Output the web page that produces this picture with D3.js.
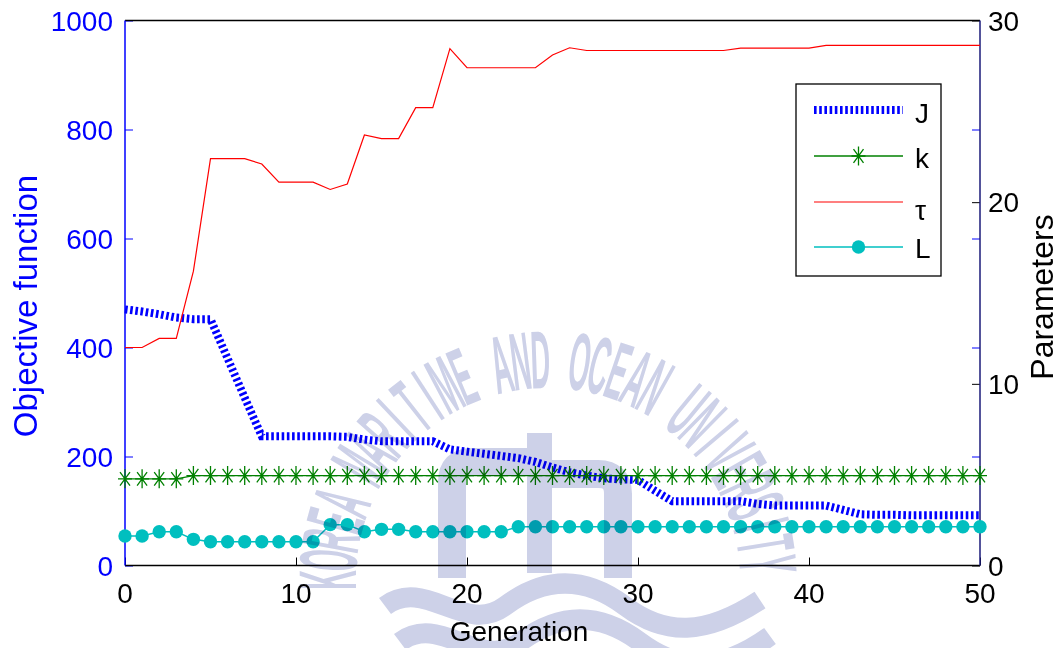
<!DOCTYPE html>
<html>
<head>
<meta charset="utf-8">
<script src="https://cdn.jsdelivr.net/npm/d3@7/dist/d3.min.js"></script>
<style>
  body { margin: 0; background: #fff; }
  text { font-family: "Liberation Sans", Arial, Helvetica, sans-serif; }
</style>
</head>
<body>
<div id="chart"></div>
<script>
// generations on the x axis
var generation = [0,1,2,3,4,5,6,7,8,9,10,11,12,13,14,15,16,17,18,19,20,21,22,23,24,25,
                  26,27,28,29,30,31,32,33,34,35,36,37,38,39,40,41,42,43,44,45,46,47,48,49,50]

// objective function J (left axis)
var J = [470,466,461,455,452,452,380,308,237,237,237,237,237,236,231,228,228,228,228,213,
         209,205,201,197,190,180,171,165,160,158,157,137,118,118,118,118,118,113,110,110,
         110,110,102,94,93,93,92,92,92,92,92]

// parameters (right axis)
var k = [4.77,4.77,4.77,4.77,4.95,4.95,4.95,4.95,4.95,4.95,4.95,4.95,4.95,4.95,4.95,4.95,4.95,
         4.95,4.95,4.95,4.95,4.95,4.95,4.95,4.95,4.95,4.95,4.95,4.95,4.95,4.95,4.95,4.95,4.95,
         4.95,4.95,4.95,4.95,4.95,4.95,4.95,4.95,4.95,4.95,4.95,4.95,4.95,4.95,4.95,4.95,4.95]

var tau = [12.0,12.0,12.5,12.5,16.2,22.4,22.4,22.4,22.1,21.1,21.1,21.1,20.7,21.0,23.7,23.5,23.5,
           25.2,25.2,28.45,27.4,27.4,27.4,27.4,27.4,28.1,28.5,28.35,28.35,28.35,28.35,28.35,28.35,
           28.35,28.35,28.35,28.48,28.48,28.48,28.48,28.48,28.63,28.63,28.63,28.63,28.63,28.63,
           28.63,28.63,28.63,28.63]

var L = [1.62,1.62,1.86,1.86,1.44,1.31,1.31,1.31,1.31,1.31,1.31,1.31,2.25,2.25,1.86,1.99,1.99,
         1.86,1.86,1.86,1.86,1.86,1.86,2.13,2.13,2.13,2.13,2.13,2.13,2.13,2.13,2.13,2.13,2.13,
         2.13,2.13,2.13,2.13,2.13,2.13,2.13,2.13,2.13,2.13,2.13,2.13,2.13,2.13,2.13,2.13,2.13]

var xTicks = [0,10,20,30,40,50]
var leftTicks = [0,200,400,600,800,1000]
var rightTicks = [0,10,20,30]
var legendLabels = ["J","k","\u03c4","L"]
var watermarkText = "KOREA MARITIME AND OCEAN UNIVERSITY"

var width = 1060, height = 648
var margin = {top: 20.5, right: 80, bottom: 82.5, left: 125}
var plotW = width - margin.left - margin.right,
    plotH = height - margin.top - margin.bottom

var svg = d3.select('#chart').append('svg')
    .attr('width', width)
    .attr('height', height)

var x = d3.scaleLinear().domain([0, 50]).range([margin.left, margin.left + plotW]),
    yL = d3.scaleLinear().domain([0, 1000]).range([margin.top + plotH, margin.top]),
    yR = d3.scaleLinear().domain([0, 30]).range([margin.top + plotH, margin.top])

var x0 = x(0), x1 = x(50), yb = yL(0), yt = yL(1000)
var tickLen = 8

// axes (ticks pointing inside, like matlab)
var leftAxis = d3.axisRight(yL).tickValues(leftTicks).tickSize(tickLen).tickFormat('')
svg.append('g').attr('transform', 'translate(' + x0 + ',0)').call(leftAxis)
   .call(function(g){ g.select('.domain').remove(); g.selectAll('line').attr('stroke', '#0000ff') })
var leftMirror = d3.axisLeft(yL).tickValues(leftTicks.slice(1, 5)).tickSize(tickLen).tickFormat('')
svg.append('g').attr('transform', 'translate(' + x1 + ',0)').call(leftMirror)
   .call(function(g){ g.select('.domain').remove(); g.selectAll('line').attr('stroke', '#0000ff') })
var rightAxis = d3.axisLeft(yR).tickValues(rightTicks).tickSize(tickLen).tickFormat('')
svg.append('g').attr('transform', 'translate(' + x1 + ',0)').call(rightAxis)
   .call(function(g){ g.select('.domain').remove(); g.selectAll('line').attr('stroke', '#000') })
var xAxis = d3.axisTop(x).tickValues(xTicks).tickSize(tickLen).tickFormat('')
svg.append('g').attr('transform', 'translate(0,' + yb + ')').call(xAxis)
   .call(function(g){ g.select('.domain').remove(); g.selectAll('line').attr('stroke', '#000') })

// frame
svg.append('line').attr('x1', x0).attr('x2', x1).attr('y1', yt).attr('y2', yt).attr('stroke', '#000').attr('stroke-width', 1.5)
svg.append('line').attr('x1', x0).attr('x2', x1).attr('y1', yb).attr('y2', yb).attr('stroke', '#000').attr('stroke-width', 1.5)
svg.append('line').attr('x1', x1).attr('x2', x1).attr('y1', yt).attr('y2', yb).attr('stroke', '#1a1a7a').attr('stroke-width', 1.5)
svg.append('line').attr('x1', x0).attr('x2', x0).attr('y1', yt).attr('y2', yb).attr('stroke', '#0000ff').attr('stroke-width', 1.5)

// tick labels
svg.append('g').selectAll('text').data(leftTicks).enter().append('text')
    .attr('x', x0 - 12).attr('y', function(d){ return yL(d) + 10 })
    .attr('text-anchor', 'end').attr('font-size', 28).attr('fill', '#0000ff')
    .text(function(d){ return d })
svg.append('g').selectAll('text').data(rightTicks).enter().append('text')
    .attr('x', x1 + 8).attr('y', function(d){ return yR(d) + 10 })
    .attr('font-size', 28).attr('fill', '#000')
    .text(function(d){ return d })
svg.append('g').selectAll('text').data(xTicks).enter().append('text')
    .attr('x', function(d){ return x(d) }).attr('y', yb + 37)
    .attr('text-anchor', 'middle').attr('font-size', 28).attr('fill', '#000')
    .text(function(d){ return d })

// axis titles
svg.append('text').attr('transform', 'translate(37,' + 306 + ') rotate(-90)')
    .attr('text-anchor', 'middle').attr('font-size', 33).attr('fill', '#0000ff')
    .text('Objective function')
svg.append('text').attr('transform', 'translate(1053,' + 297 + ') rotate(-90)')
    .attr('text-anchor', 'middle').attr('font-size', 32).attr('fill', '#000')
    .text('Parameters')
svg.append('text').attr('x', 519).attr('y', 641)
    .attr('text-anchor', 'middle').attr('font-size', 28).attr('fill', '#000')
    .text('Generation')

// series
var lineJ = d3.line().x(function(d, i){ return x(generation[i]) }).y(function(d){ return yL(d) })
var lineR = d3.line().x(function(d, i){ return x(generation[i]) }).y(function(d){ return yR(d) })

svg.append('path').datum(J).attr('d', lineJ)
    .attr('fill', 'none').attr('stroke', '#0000ff').attr('stroke-width', 8)
    .attr('stroke-dasharray', '2.6,2.6')

var starPath = 'M0,-9.5V9.5M-7,0H7M-5,-6.8L5,6.8M-5,6.8L5,-6.8'
var green = '#008000', cyan = '#00bfbf'

svg.append('path').datum(k).attr('d', lineR)
    .attr('fill', 'none').attr('stroke', green).attr('stroke-width', 1.3)
svg.append('g').selectAll('path').data(k).enter().append('path')
    .attr('transform', function(d, i){ return 'translate(' + x(generation[i]) + ',' + yR(d) + ')' })
    .attr('d', starPath).attr('fill', 'none').attr('stroke', green).attr('stroke-width', 1.3)

svg.append('path').datum(tau).attr('d', lineR)
    .attr('fill', 'none').attr('stroke', '#ff0000').attr('stroke-width', 1.2)

svg.append('path').datum(L).attr('d', lineR)
    .attr('fill', 'none').attr('stroke', cyan).attr('stroke-width', 1.5)
svg.append('g').selectAll('circle').data(L).enter().append('circle')
    .attr('cx', function(d, i){ return x(generation[i]) })
    .attr('cy', function(d){ return yR(d) })
    .attr('r', 6.7).attr('fill', cyan)

// legend
var lg = svg.append('g').attr('transform', 'translate(796,84)')
lg.append('rect').attr('width', 145).attr('height', 192).attr('fill', '#fff').attr('stroke', '#000').attr('stroke-width', 1.3)
var rowY = [26, 72, 118, 163]
var lx0 = 18, lx1 = 107, lmid = 62.5
lg.append('line').attr('x1', lx0).attr('x2', lx1).attr('y1', rowY[0]).attr('y2', rowY[0])
    .attr('stroke', '#0000ff').attr('stroke-width', 8).attr('stroke-dasharray', '2.6,2.6')
lg.append('line').attr('x1', lx0).attr('x2', lx1).attr('y1', rowY[1]).attr('y2', rowY[1])
    .attr('stroke', green).attr('stroke-width', 1.3)
lg.append('path').attr('transform', 'translate(' + lmid + ',' + rowY[1] + ')')
    .attr('d', starPath).attr('fill', 'none').attr('stroke', green).attr('stroke-width', 1.3)
lg.append('line').attr('x1', lx0).attr('x2', lx1).attr('y1', rowY[2]).attr('y2', rowY[2])
    .attr('stroke', '#ff0000').attr('stroke-width', 1.2)
lg.append('line').attr('x1', lx0).attr('x2', lx1).attr('y1', rowY[3]).attr('y2', rowY[3])
    .attr('stroke', cyan).attr('stroke-width', 1.5)
lg.append('circle').attr('cx', lmid).attr('cy', rowY[3]).attr('r', 6.7).attr('fill', cyan)
var labelDy = [13, 12, 18, 11]
lg.selectAll('text.lab').data(legendLabels).enter().append('text')
    .attr('class', 'lab')
    .attr('x', 119).attr('y', function(d, i){ return rowY[i] + labelDy[i] })
    .attr('font-size', 28).attr('fill', '#000')
    .text(function(d){ return d })

// faint university watermark over the figure
var wmColor = '#cdd1e8'
var wm = svg.append('g').style('mix-blend-mode', 'multiply').attr('fill', wmColor).attr('stroke', wmColor)
var cx = 548, cy = 580, r = 192
var chars = watermarkText.split('')
var a0 = -90, a1 = 86
chars.forEach(function(c, i){
  if (c === ' ') return
  var a = a0 + (a1 - a0) * i / (chars.length - 1)
  var rad = a * Math.PI / 180
  wm.append('text')
    .attr('transform', 'translate(' + (cx + r * Math.sin(rad)) + ',' + (cy - r * Math.cos(rad)) + ') rotate(' + a + ') scale(0.33,1)')
    .attr('text-anchor', 'middle').attr('font-size', 82).attr('font-weight', 'bold')
    .attr('stroke', 'none')
    .text(c)
})
wm.append('rect').attr('x', 527).attr('y', 433).attr('width', 25).attr('height', 140).attr('stroke', 'none')
wm.append('path').attr('d', 'M452,578 V482 Q452,462 472,462 H527').attr('fill', 'none').attr('stroke-width', 28)
wm.append('path').attr('d', 'M552,474 H598 Q618,474 618,494 V578').attr('fill', 'none').attr('stroke-width', 28)
wm.append('path').attr('d', 'M385,606 C425,576 465,636 505,606 S585,576 625,606 S705,636 760,600').attr('fill', 'none').attr('stroke-width', 20)
wm.append('path').attr('d', 'M400,642 C440,612 480,672 520,642 S600,612 640,642 S720,672 770,636').attr('fill', 'none').attr('stroke-width', 20)
</script>
</body>
</html>
